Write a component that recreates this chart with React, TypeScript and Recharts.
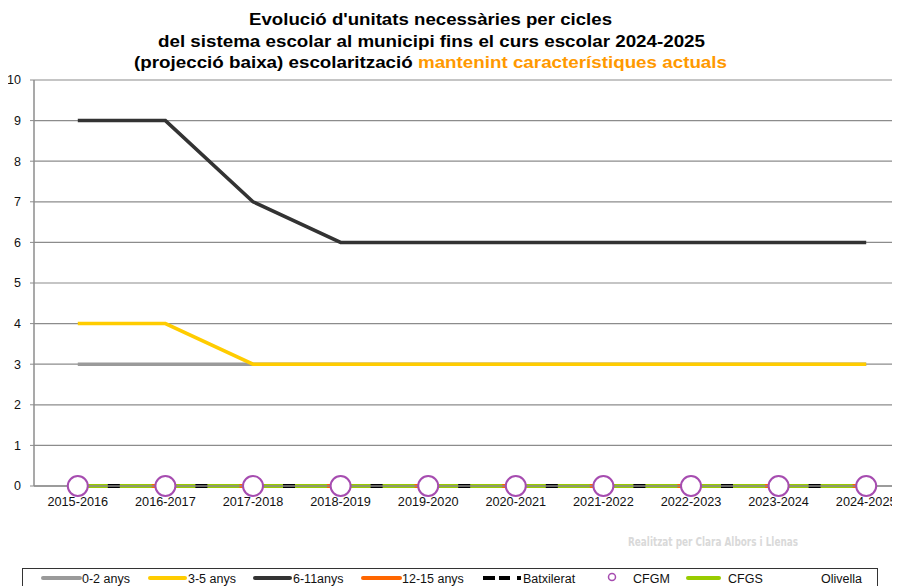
import React from 'react';
import { LineChart, Line, XAxis, YAxis, CartesianGrid } from 'recharts';

const categories = ['2015-2016', '2016-2017', '2017-2018', '2018-2019', '2019-2020', '2020-2021', '2021-2022', '2022-2023', '2023-2024', '2024-2025'];
const anys0_2 = [3, 3, 3, 3, 3, 3, 3, 3, 3, 3];
const anys3_5 = [4, 4, 3, 3, 3, 3, 3, 3, 3, 3];
const anys6_11 = [9, 9, 7, 6, 6, 6, 6, 6, 6, 6];
const anys12_15 = [0, 0, 0, 0, 0, 0, 0, 0, 0, 0];
const batxilerat = [0, 0, 0, 0, 0, 0, 0, 0, 0, 0];
const cfgm = [0, 0, 0, 0, 0, 0, 0, 0, 0, 0];
const cfgs = [0, 0, 0, 0, 0, 0, 0, 0, 0, 0];
const yTicks = [0, 1, 2, 3, 4, 5, 6, 7, 8, 9, 10];

const titleLine1 = "Evolució d'unitats necessàries per cicles";
const titleLine2 = 'del sistema escolar al municipi fins el curs escolar 2024-2025';
const titleLine3a = '(projecció baixa) escolarització ';
const titleLine3b = 'mantenint característiques actuals';
const credit = 'Realitzat per Clara Albors i Llenas';
const legendLabels = ['0-2 anys', '3-5 anys', '6-11anys', '12-15 anys', 'Batxilerat', 'CFGM', 'CFGS', 'Olivella'];

const data = categories.map((c, i) => ({
  cat: c,
  a02: anys0_2[i],
  a35: anys3_5[i],
  a611: anys6_11[i],
  a1215: anys12_15[i],
  batx: batxilerat[i],
  cfgm: cfgm[i],
  cfgs: cfgs[i],
}));

const FONT = '"Liberation Sans", Arial, Helvetica, sans-serif';
const GRID = '#8c8c8c';
const C_GRAY = '#9a9a9a';
const C_YEL = '#ffcc00';
const C_BLK = '#333333';
const C_ORA = '#ff6600';
const C_GRN = '#99cc00';
const C_PUR = '#a64cb0';

function LegendOverlay() {
  const ly = 570;
  const ty = 575;
  const txt = { fontFamily: FONT, fontSize: 12.5, fontWeight: 400, fill: '#111' } as const;
  return (
    <svg width={892} height={578} style={{ position: 'absolute', left: 0, top: 0, pointerEvents: 'none' }}>
      <rect x={14.5} y={560.5} width={855} height={40} fill="#fff" stroke="#333" strokeWidth={1} />
      <line x1={35} x2={72} y1={ly} y2={ly} stroke={C_GRAY} strokeWidth={4} strokeLinecap="round" />
      <text x={74} y={ty} {...txt}>{legendLabels[0]}</text>
      <line x1={142} x2={177} y1={ly} y2={ly} stroke={C_YEL} strokeWidth={4} strokeLinecap="round" />
      <text x={180} y={ty} {...txt}>{legendLabels[1]}</text>
      <line x1={247} x2={282} y1={ly} y2={ly} stroke={C_BLK} strokeWidth={4} strokeLinecap="round" />
      <text x={285} y={ty} {...txt}>{legendLabels[2]}</text>
      <line x1={355} x2={392} y1={ly} y2={ly} stroke={C_ORA} strokeWidth={4} strokeLinecap="round" />
      <text x={394} y={ty} {...txt}>{legendLabels[3]}</text>
      <line x1={475} x2={513} y1={ly} y2={ly} stroke="#000" strokeWidth={4} strokeDasharray="12 4 11 7 4" />
      <text x={515} y={ty} {...txt}>{legendLabels[4]}</text>
      <circle cx={604} cy={ly - 1} r={3.5} fill="#fff" stroke={C_PUR} strokeWidth={1.5} />
      <text x={625} y={ty} {...txt}>{legendLabels[5]}</text>
      <line x1={680} x2={711} y1={ly} y2={ly} stroke={C_GRN} strokeWidth={4} strokeLinecap="round" />
      <text x={720} y={ty} {...txt}>{legendLabels[6]}</text>
      <text x={813} y={ty} {...txt}>{legendLabels[7]}</text>
    </svg>
  );
}

function TitleOverlay() {
  const t = { fontFamily: FONT, fontSize: 17, fontWeight: 700, fill: '#000' } as const;
  return (
    <svg width={892} height={578} style={{ position: 'absolute', left: 0, top: 0, pointerEvents: 'none' }}>
      <text x={241} y={17} textLength={363} lengthAdjust="spacingAndGlyphs" {...t}>{titleLine1}</text>
      <text x={150} y={39} textLength={547} lengthAdjust="spacingAndGlyphs" {...t}>{titleLine2}</text>
      <text x={126} y={60} textLength={593} lengthAdjust="spacingAndGlyphs" {...t}>
        <tspan>{titleLine3a}</tspan>
        <tspan fill="#ff9900">{titleLine3b}</tspan>
      </text>
      <text x={620} y={538} textLength={170} lengthAdjust="spacingAndGlyphs"
        style={{ fontFamily: '"DejaVu Sans", sans-serif', fontSize: 13, fontWeight: 700, fill: '#d9d9d9' }}>{credit}</text>
    </svg>
  );
}

export default function App() {
  return (
    <div style={{ position: 'relative', width: 892, height: 578, overflow: 'hidden', background: '#fff' }}>
      <LineChart width={910} height={578} data={data} margin={{ top: 72, right: 8, left: 0, bottom: 70 }}>
        <CartesianGrid vertical={false} stroke={GRID} strokeWidth={1.2} />
        <XAxis
          dataKey="cat"
          padding={{ left: 43.8, right: 43.8 }}
          height={30}
          tickLine={false}
          tickSize={0}
          tickMargin={11}
          axisLine={{ stroke: GRID, strokeWidth: 1.5 }}
          tick={{ fontFamily: FONT, fontSize: 12.7, fontWeight: 400, fill: '#111' }}
          interval={0}
        />
        <YAxis
          width={26}
          domain={[0, 10]}
          ticks={yTicks}
          interval={0}
          tickSize={4}
          tickMargin={9}
          tickLine={{ stroke: GRID }}
          axisLine={{ stroke: GRID, strokeWidth: 1.5 }}
          tick={{ fontFamily: FONT, fontSize: 12.5, fontWeight: 400, fill: '#111' }}
        />
        <Line dataKey="a02" stroke={C_GRAY} strokeWidth={3.5} dot={false} isAnimationActive={false} />
        <Line dataKey="a35" stroke={C_YEL} strokeWidth={3.5} dot={false} isAnimationActive={false} />
        <Line dataKey="a611" stroke={C_BLK} strokeWidth={3.5} dot={false} isAnimationActive={false} />
        <Line dataKey="a1215" stroke={C_ORA} strokeWidth={4} dot={false} isAnimationActive={false} />
        <Line dataKey="cfgs" stroke={C_GRN} strokeWidth={4} strokeDasharray="74 13.6" dot={false} isAnimationActive={false} />
        <Line dataKey="batx" stroke="#000" strokeWidth={4} strokeDasharray="0 30 12 45.6" dot={false} isAnimationActive={false} />
        <Line dataKey="cfgm" stroke="transparent" strokeWidth={0} dot={{ r: 10, stroke: C_PUR, strokeWidth: 2, fill: '#fff' }} isAnimationActive={false} />
      </LineChart>
      <TitleOverlay />
      <LegendOverlay />
    </div>
  );
}
